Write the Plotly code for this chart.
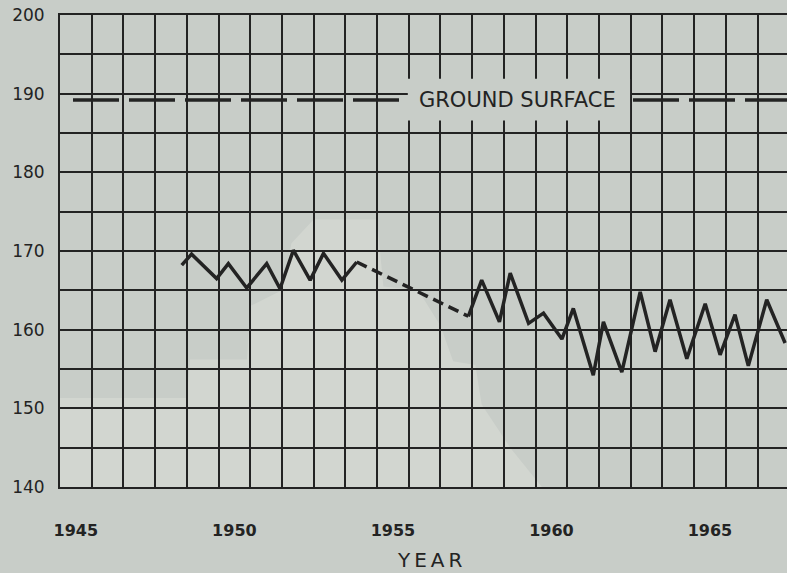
import plotly.graph_objects as go

# ---- data ----
years_a = [1948.84, 1949.15, 1949.94, 1950.31, 1950.89, 1951.52, 1951.94,
           1952.36, 1952.89, 1953.31, 1953.89, 1954.36]
level_a = [168.2, 169.6, 166.5, 168.4, 165.3, 168.4, 165.2,
           170.1, 166.3, 169.7, 166.3, 168.6]

years_gap = [1954.36, 1957.88]
level_gap = [168.6, 161.7]

years_b = [1957.88, 1958.30, 1958.86, 1959.20, 1959.78, 1960.25, 1960.83,
           1961.19, 1961.82, 1962.14, 1962.72, 1963.30, 1963.77, 1964.24,
           1964.77, 1965.35, 1965.82, 1966.29, 1966.71, 1967.29, 1967.87]
level_b = [161.7, 166.3, 161.0, 167.2, 160.8, 162.1, 158.8,
           162.7, 154.2, 161.0, 154.6, 164.8, 157.2, 163.8,
           156.3, 163.3, 156.8, 161.9, 155.4, 163.8, 158.3]

ground_surface = 189.2
ground_years = [1945.41, 1969.0]

year_ticks = [1945, 1950, 1955, 1960, 1965]
level_ticks = [140, 150, 160, 170, 180, 190, 200]

# ---- styling ----
BG = "#c8cdc8"
PATCH = "#d2d6d0"
INK = "#232323"
FONT = "DejaVu Sans"

fig = go.Figure()

fig.add_trace(go.Scatter(x=ground_years, y=[ground_surface] * len(ground_years),
                         mode="lines", line=dict(color=INK, width=3.5, dash="46px,10px"),
                         hoverinfo="skip"))
fig.add_trace(go.Scatter(x=years_a, y=level_a, mode="lines",
                         line=dict(color=INK, width=3.5)))
fig.add_trace(go.Scatter(x=years_gap, y=level_gap, mode="lines",
                         line=dict(color=INK, width=3.5, dash="11px,6px")))
fig.add_trace(go.Scatter(x=years_b, y=level_b, mode="lines",
                         line=dict(color=INK, width=3.5)))

# faded (lighter) patch of the scanned paper, drawn under the grid
patch = [(1945, 140), (1945, 151.3), (1949.0, 151.3), (1949.1, 156.2),
         (1950.9, 156.2), (1951.0, 163.0), (1952.0, 165.0), (1952.3, 171.0),
         (1953.0, 174.0), (1955.0, 174.0), (1955.2, 165.5), (1956.3, 165.0),
         (1957.0, 160.5), (1957.4, 156.0), (1958.1, 155.5), (1958.3, 150.5),
         (1959.2, 145.0), (1960.2, 140)]
path = "M " + " L ".join(f"{x},{y}" for x, y in patch) + " Z"
fig.add_shape(type="path", path=path, xref="x", yref="y", layer="below",
              fillcolor=PATCH, line=dict(width=0))

# blank band that interrupts the grid and the ground-surface line behind the label
fig.add_shape(type="rect", xref="x", yref="y", layer="above",
              x0=1955.97, x1=1962.98, y0=186.6, y1=191.9,
              fillcolor=BG, line=dict(width=0))

fig.add_annotation(x=1959.42, y=ground_surface, xref="x", yref="y",
                   text="GROUND SURFACE", showarrow=False,
                   font=dict(family=FONT, size=21, color=INK))

fig.add_annotation(x=1956.67, y=0, xref="x", yref="paper", yshift=-73,
                   text="Y\u2009E\u2009A\u2009R", showarrow=False, yanchor="middle",
                   font=dict(family=FONT, size=20, color=INK))

fig.update_layout(
    width=787, height=573,
    margin=dict(l=60, r=0, t=15, b=86),
    paper_bgcolor=BG, plot_bgcolor=BG,
    showlegend=False,
    xaxis=dict(
        range=[1945, 1967.93],
        tickmode="array",
        tickvals=[y + 0.5 for y in year_ticks],
        ticktext=[str(y) for y in year_ticks],
        showgrid=False, zeroline=False,
        showline=True, mirror=True, linecolor=INK, linewidth=2,
        ticks="", ticklabelstandoff=28,
        tickfont=dict(family=FONT, size=16, color=INK, weight="bold"),
        minor=dict(tick0=1945, dtick=1, showgrid=True, gridcolor=INK, gridwidth=2),
    ),
    yaxis=dict(
        range=[140, 200],
        tickmode="array", tickvals=level_ticks,
        showgrid=True, gridcolor=INK, gridwidth=2, zeroline=False,
        showline=True, mirror=False, linecolor=INK, linewidth=2,
        ticks="", ticklabelstandoff=10,
        tickfont=dict(family=FONT, size=17, color=INK),
        minor=dict(dtick=5, showgrid=True, gridcolor=INK, gridwidth=2),
    ),
)

fig.write_html("out.html")
